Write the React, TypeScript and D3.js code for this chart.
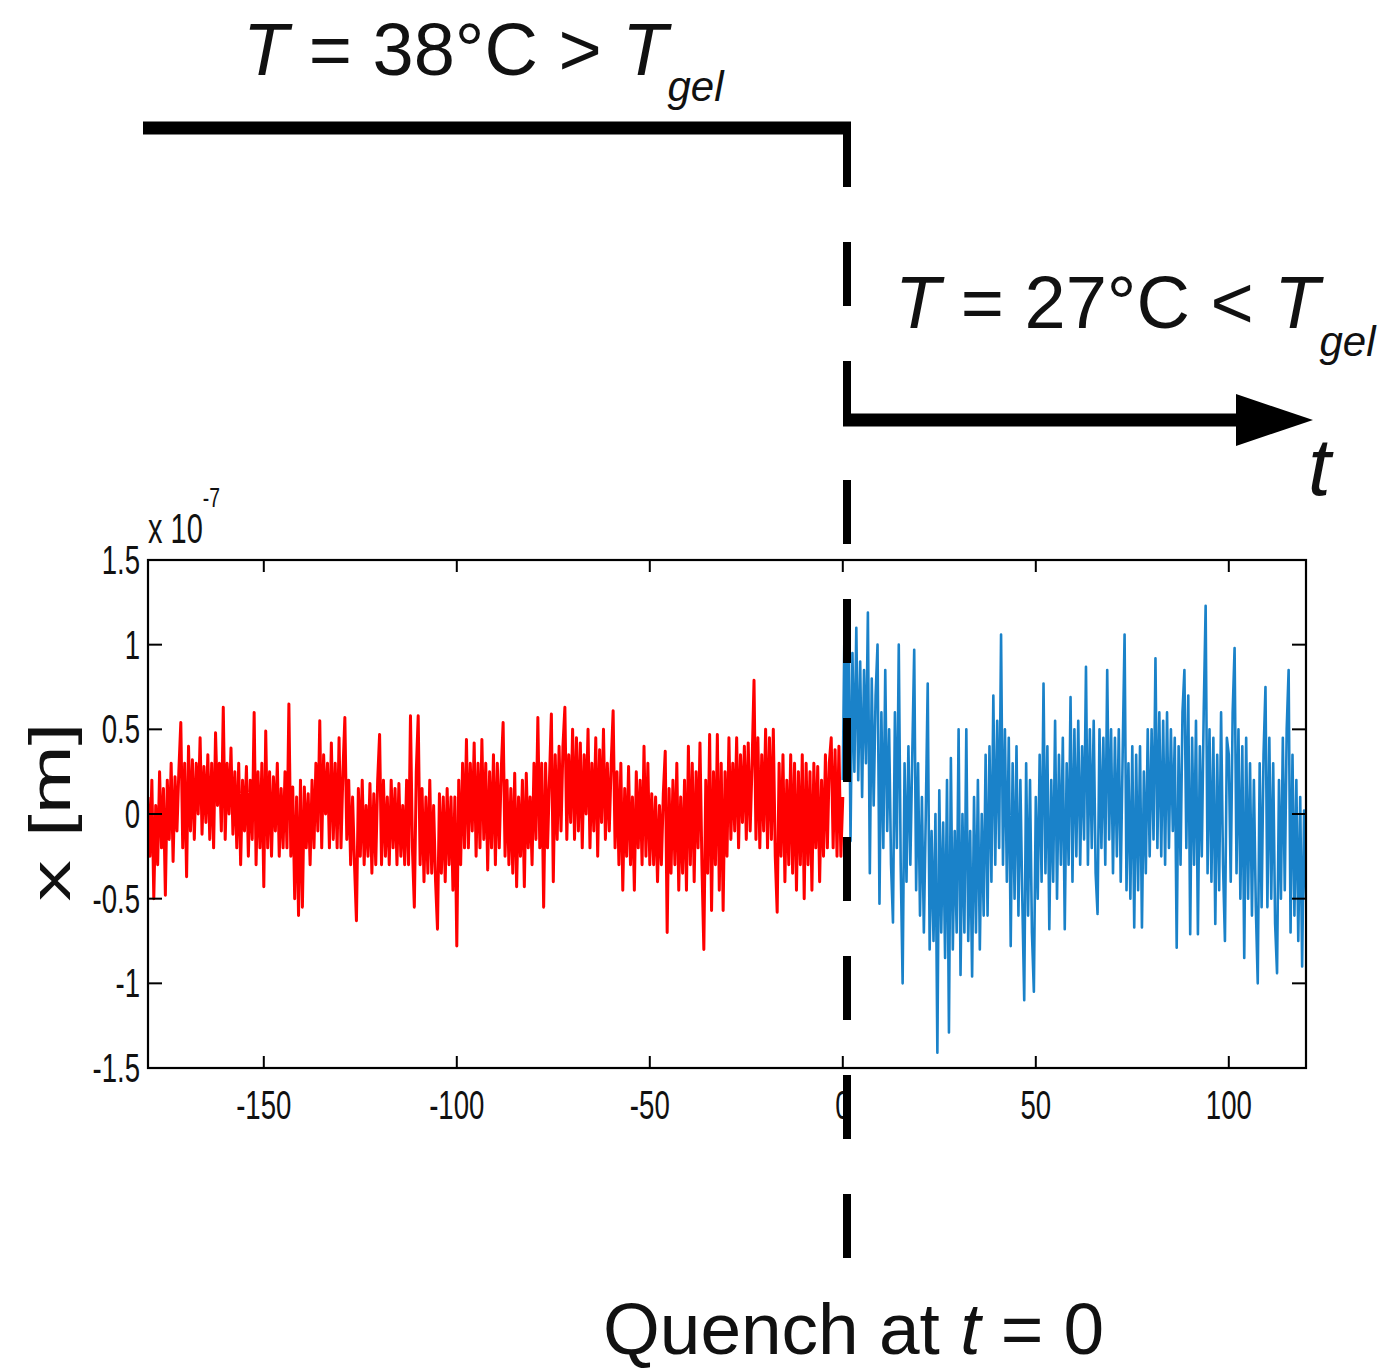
import React from 'react';
import * as d3 from 'd3';

// ---- data (units of 1e-7 m) ----
const X_DOMAIN: [number, number] = [-180, 120];
const Y_DOMAIN: [number, number] = [-1.5, 1.5];
const X_TICKS = [-150, -100, -50, 0, 50, 100];
const X_TICK_LABELS = ['-150', '-100', '-50', '0', '50', '100'];
const Y_TICKS = [-1.5, -1, -0.5, 0, 0.5, 1, 1.5];
const Y_TICK_LABELS = ['-1.5', '-1', '-0.5', '0', '0.5', '1', '1.5'];
const SAMPLE_STEP = 0.5;
const RED_START = -180;
const BLUE_START = 0;

const redValues = [
  0.1, -0.25, 0.2, -0.5, 0.05, -0.3, 0.25, -0.2, 0.15, -0.48, 0.2, -0.15, 0.3, -0.28, 0.22, -0.1, 0.26, 0.54, -0.2, 0.3,
  -0.37, 0.4, -0.1, 0.32, -0.15, 0.3, 0.0, 0.45, -0.12, 0.28, -0.05, 0.35, -0.15, 0.3, -0.2, 0.48, 0.05, 0.3, -0.1, 0.63,
  -0.15, 0.3, 0.0, 0.39, -0.12, 0.25, -0.2, 0.3, -0.3, 0.2, -0.1, 0.28, -0.25, 0.2, -0.15, 0.6, -0.3, 0.25, -0.2, 0.3,
  -0.43, 0.49, -0.2, 0.25, -0.25, 0.22, -0.1, 0.3, -0.25, 0.15, -0.2, 0.25, -0.2, 0.65, -0.25, 0.16, -0.5, 0.1, -0.6, 0.2,
  -0.55, 0.16, -0.2, 0.12, -0.3, 0.2, -0.2, 0.3, -0.1, 0.55, -0.2, 0.35, 0.0, 0.3, -0.2, 0.42, -0.15, 0.3, -0.2, 0.45,
  -0.2, 0.25, 0.57, -0.15, 0.2, -0.3, 0.1, -0.3, -0.63, 0.15, -0.25, 0.2, -0.3, 0.05, -0.25, 0.18, -0.35, 0.12, -0.3, 0.2,
  0.47, -0.3, 0.2, -0.25, 0.1, -0.3, 0.2, -0.2, 0.15, -0.3, 0.18, -0.25, 0.05, -0.3, 0.2, -0.3, 0.58, -0.2, -0.55, 0.25,
  0.58, -0.3, 0.15, -0.4, 0.1, -0.35, 0.2, -0.35, 0.05, -0.4, -0.68, 0.12, -0.35, 0.1, -0.4, 0.15, -0.3, 0.1, -0.45, 0.1,
  -0.78, 0.2, -0.3, 0.3, -0.2, 0.44, -0.2, 0.3, -0.1, 0.42, -0.25, 0.3, -0.2, 0.44, -0.15, 0.3, -0.33, 0.25, -0.2, 0.35,
  -0.3, 0.3, -0.2, 0.25, 0.54, -0.25, 0.2, -0.3, 0.15, -0.35, 0.24, -0.43, 0.1, -0.25, 0.2, -0.43, 0.24, -0.2, 0.1, -0.3,
  0.3, -0.15, 0.57, -0.2, 0.3, -0.55, 0.3, -0.2, 0.2, 0.59, -0.4, 0.35, -0.15, 0.4, -0.1, 0.4, 0.63, -0.15, 0.35, -0.05,
  0.5, -0.15, 0.45, -0.1, 0.42, -0.2, 0.35, 0.0, 0.5, -0.2, 0.3, -0.1, 0.45, -0.25, 0.38, -0.05, 0.5, -0.15, 0.3, -0.1,
  0.3, 0.61, -0.2, 0.25, -0.3, 0.3, -0.45, 0.15, -0.25, 0.28, -0.3, 0.1, -0.45, 0.25, -0.2, 0.2, -0.3, 0.4, -0.25, 0.3,
  -0.3, 0.12, -0.3, 0.1, -0.4, 0.05, -0.3, 0.12, 0.37, -0.7, 0.15, -0.35, 0.2, -0.3, 0.3, -0.45, 0.1, -0.35, 0.2, -0.45,
  0.4, -0.3, 0.3, -0.4, 0.25, -0.2, 0.42, -0.3, -0.8, 0.2, -0.35, 0.47, -0.57, 0.25, -0.3, 0.47, -0.45, 0.3, -0.57, 0.25,
  -0.25, 0.45, -0.15, 0.3, -0.1, 0.45, -0.2, 0.35, -0.05, 0.4, -0.15, 0.42, -0.1, 0.3, 0.79, -0.15, 0.45, -0.2, 0.35, -0.1,
  0.5, -0.2, 0.45, -0.15, 0.5, -0.25, -0.58, 0.3, -0.25, 0.35, -0.4, 0.2, -0.3, 0.35, -0.35, 0.3, -0.45, 0.25, -0.3, 0.35,
  -0.5, 0.3, -0.3, 0.25, -0.45, 0.3, -0.2, 0.28, -0.4, 0.2, -0.25, 0.35, -0.2, 0.3, 0.45, -0.2, 0.38, -0.25, 0.4, -0.25,
  0.1,
];

const blueValues = [
  0.2, 1.25, 0.3, 1.2, -0.16, 0.95, 0.25, 1.1, 0.2, 0.9, 0.1, 0.85, 0.3, 1.19, -0.35, 0.8, 0.05, 0.7, 1.0, -0.53,
  0.6, -0.2, 0.85, -0.1, 0.5, -0.3, -0.64, 0.6, -0.2, 1.0, -0.3, -1.0, 0.3, -0.4, 0.4, -0.3, 0.35, 0.97, -0.45, 0.3,
  -0.6, 0.1, -0.7, 0.0, 0.77, -0.8, -0.1, -0.75, 0.0, -1.41, 0.14, -0.7, -0.05, -0.85, 0.2, -1.29, 0.33, -0.8, -0.1, -0.7,
  0.5, -0.95, 0.0, -0.7, 0.5, -0.75, -0.1, -0.96, 0.1, -0.7, 0.2, -0.8, 0.0, -0.6, 0.35, -0.6, 0.4, -0.4, 0.7, -0.3,
  0.55, -0.2, 1.06, -0.3, 0.5, -0.4, 0.45, -0.78, 0.3, -0.5, 0.4, -0.6, 0.2, -0.5, -1.1, 0.3, -0.6, 0.2, -0.7, -1.05,
  0.1, -0.5, 0.35, -0.4, 0.77, -0.35, 0.4, -0.68, 0.2, -0.4, 0.55, -0.5, 0.35, -0.3, 0.45, -0.68, 0.3, -0.3, 0.69, -0.4,
  0.5, -0.25, 0.55, -0.3, 0.4, -0.15, 0.87, -0.3, 0.5, -0.2, 0.55, -0.35, -0.59, 0.5, -0.2, 0.45, -0.3, 0.85, -0.15, 0.5,
  -0.35, 0.45, -0.25, 0.5, -0.4, 0.35, 1.06, -0.45, 0.3, -0.5, 0.4, -0.67, 0.35, -0.45, 0.4, -0.67, 0.25, -0.35, 0.5, -0.25,
  0.5, -0.15, 0.92, -0.2, 0.6, -0.25, 0.55, -0.3, 0.6, -0.2, 0.5, -0.1, 0.45, -0.79, 0.4, -0.3, 0.6, 0.85, -0.2, 0.7,
  -0.71, 0.45, -0.3, 0.55, -0.71, 0.4, -0.25, 0.6, 1.23, -0.35, 0.5, -0.4, 0.45, -0.65, 0.35, -0.45, 0.6, -0.3, -0.75, 0.45,
  0.35, -0.4, 0.6, 0.98, -0.35, 0.5, -0.5, 0.4, -0.85, 0.45, -0.5, 0.3, -0.6, 0.2, -0.55, -1.0, 0.3, -0.55, 0.35, 0.75,
  -0.55, 0.45, -0.5, 0.3, -0.65, -0.94, 0.2, -0.5, 0.45, -0.45, 0.5, 0.85, -0.7, 0.35, -0.6, 0.2, -0.75, 0.1, -0.9, 0.02,
  -0.5,
];

// ---- layout ----
const W = 1397;
const H = 1372;
const PLOT = { left: 148, right: 1306, top: 560, bottom: 1068 };
const FONT = "'Liberation Sans', Arial, Helvetica, sans-serif";
const RED = '#ff0000';
const BLUE = '#1a82c9';
const SQUEEZE = 0.69;

export default function App() {
  const x = d3.scaleLinear().domain(X_DOMAIN).range([PLOT.left, PLOT.right]);
  const y = d3.scaleLinear().domain(Y_DOMAIN).range([PLOT.bottom, PLOT.top]);

  const mkLine = (start: number) =>
    d3
      .line<number>()
      .x((_, i) => x(start + i * SAMPLE_STEP))
      .y((d) => y(d));

  const redPath = mkLine(RED_START)(redValues) || '';
  const bluePath = mkLine(BLUE_START)(blueValues) || '';

  const quenchX = 847;

  return (
    <svg
      width={W}
      height={H}
      viewBox={`0 0 ${W} ${H}`}
      style={{ position: 'absolute', left: 0, top: 0, background: '#fff' }}
      fontFamily={FONT}
    >
      <rect x={0} y={0} width={W} height={H} fill="#fff" />
      <defs>
        <clipPath id="plotclip">
          <rect x={PLOT.left} y={PLOT.top} width={PLOT.right - PLOT.left} height={PLOT.bottom - PLOT.top} />
        </clipPath>
      </defs>

      {/* Top annotation */}
      <text x={243} y={75} fontSize={74} fill="#111">
        <tspan fontStyle="italic">T</tspan>
        <tspan> = 38°C &gt; </tspan>
        <tspan fontStyle="italic">T</tspan>
        <tspan fontStyle="italic" fontSize={42} dy={26}>gel</tspan>
      </text>
      <text x={895} y={328} fontSize={74} fill="#111">
        <tspan fontStyle="italic">T</tspan>
        <tspan> = 27°C &lt; </tspan>
        <tspan fontStyle="italic">T</tspan>
        <tspan fontStyle="italic" fontSize={42} dy={28}>gel</tspan>
      </text>
      <text x={1308} y={495} fontSize={82} fontStyle="italic" fill="#111">t</text>

      <line x1={143} x2={851} y1={128} y2={128} stroke="#000" strokeWidth={13} />
      <line x1={843} x2={1245} y1={420} y2={420} stroke="#000" strokeWidth={13} />
      <polygon points="1236,394 1313,420 1236,446" fill="#000" />

      {/* data */}
      <g clipPath="url(#plotclip)">
        <path d={redPath} fill="none" stroke={RED} strokeWidth={3} strokeLinejoin="round" />
        <path d={bluePath} fill="none" stroke={BLUE} strokeWidth={2.6} strokeLinejoin="round" />
      </g>

      {/* frame */}
      <rect
        x={PLOT.left}
        y={PLOT.top}
        width={PLOT.right - PLOT.left}
        height={PLOT.bottom - PLOT.top}
        fill="none"
        stroke="#000"
        strokeWidth={2.2}
      />
      {X_TICKS.map((t) => (
        <g key={'xt' + t}>
          <line x1={x(t)} x2={x(t)} y1={PLOT.bottom} y2={PLOT.bottom - 12} stroke="#000" strokeWidth={2} />
          <line x1={x(t)} x2={x(t)} y1={PLOT.top} y2={PLOT.top + 12} stroke="#000" strokeWidth={2} />
        </g>
      ))}
      {Y_TICKS.map((t) => (
        <g key={'yt' + t}>
          <line x1={PLOT.left} x2={PLOT.left + 14} y1={y(t)} y2={y(t)} stroke="#000" strokeWidth={2} />
          <line x1={PLOT.right} x2={PLOT.right - 14} y1={y(t)} y2={y(t)} stroke="#000" strokeWidth={2} />
        </g>
      ))}
      {X_TICKS.map((t, i) => (
        <g key={'xl' + t} transform={`translate(${x(t)},1119) scale(${SQUEEZE},1)`}>
          <text textAnchor="middle" fontSize={40} fill="#111">{X_TICK_LABELS[i]}</text>
        </g>
      ))}
      {Y_TICKS.map((t, i) => (
        <g key={'yl' + t} transform={`translate(140,${y(t) + 14}) scale(${SQUEEZE},1)`}>
          <text textAnchor="end" fontSize={40} fill="#111">{Y_TICK_LABELS[i]}</text>
        </g>
      ))}
      <g transform={`translate(148,543) scale(${SQUEEZE},1)`}>
        <text fontSize={42} fill="#111">
          x 10
          <tspan fontSize={28} dy={-36}>-7</tspan>
        </text>
      </g>

      {/* y label */}
      <g transform="translate(70,812) rotate(-90) scale(1.45,1)">
        <text textAnchor="middle" fontSize={57} fill="#111">x [m]</text>
      </g>

      {/* quench dashed line */}
      <line
        x1={quenchX}
        x2={quenchX}
        y1={123}
        y2={1258}
        stroke="#000"
        strokeWidth={8}
        strokeDasharray="64 55"
      />

      <text x={603} y={1354} fontSize={73} fill="#111">
        Quench at <tspan fontStyle="italic">t</tspan> = 0
      </text>
    </svg>
  );
}
